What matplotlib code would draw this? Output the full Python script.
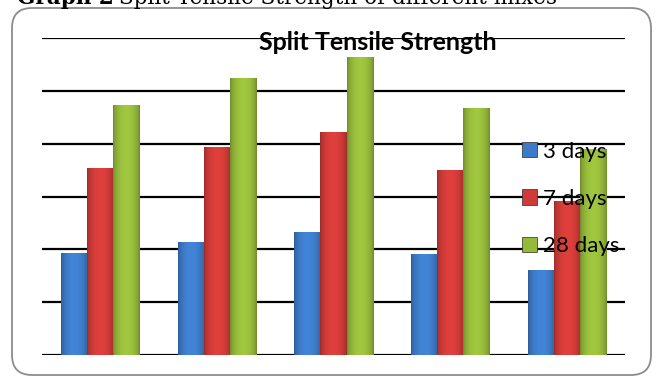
import numpy as np
import matplotlib
matplotlib.use("Agg")
import matplotlib.pyplot as plt
from matplotlib.patches import FancyBboxPatch
from matplotlib.colors import to_rgb

# ---- data ----
mixes = ["M1", "M2", "M3", "M4", "M5"]
series_names = ["3 days", "7 days", "28 days"]
days3 = [0.97, 1.07, 1.16, 0.96, 0.80]
days7 = [1.77, 1.97, 2.11, 1.75, 1.46]
days28 = [2.37, 2.62, 2.82, 2.34, 1.95]
y_ticks = [0.0, 0.5, 1.0, 1.5, 2.0, 2.5, 3.0]
colors = ["#3d7bc8", "#cf3b38", "#95b93b"]

fig = plt.figure(figsize=(6.56, 3.76), dpi=100)
W, H = 656, 376

# rounded chart frame (pixel units via inches, isotropic corners)
frame = FancyBboxPatch((12 / 100, 1 / 100), 639 / 100, 367 / 100,
                       boxstyle="round,pad=0,rounding_size=0.2",
                       transform=fig.dpi_scale_trans, facecolor="white",
                       edgecolor="#8c8c8c", linewidth=1.3, zorder=-5)
fig.patches.append(frame)

# caption (cut at the top edge, as in the source)
cap_y = 1 - 4 / H
t1 = fig.text(17 / W, cap_y, "Graph 2", fontsize=15.5, family="DejaVu Serif",
              fontweight="bold", va="baseline", ha="left")
fig.canvas.draw()
bb = t1.get_window_extent()
fig.text((bb.x1 + 5) / W, cap_y, "Split Tensile Strength of different mixes",
         fontsize=15.5, family="DejaVu Serif", va="baseline", ha="left")

ax = fig.add_axes([42 / W, (H - 355) / H, 583 / W, 317 / H])
ax.set_facecolor("none")
x = np.arange(len(mixes))
bw = 0.223
all_series = [days3, days7, days28]
for i, (vals, name, c) in enumerate(zip(all_series, series_names, colors)):
    bars = ax.bar(x + (i - 1) * bw, vals, bw, color=c, edgecolor="#2b2b2b",
                  linewidth=0.5, label=name, zorder=3)
    base = np.array(to_rgb(c))
    t = np.linspace(0, 1, 64)
    shade = 0.74 + 0.34 * np.sin(np.pi * t) ** 0.6
    grad = np.clip(base[None, :] * shade[:, None], 0, 1)[None, :, :]
    for b in bars:
        x0, y0 = b.get_x(), b.get_y()
        w, h = b.get_width(), b.get_height()
        im = ax.imshow(grad, extent=[x0, x0 + w, y0, y0 + h], aspect="auto",
                       zorder=3.5, interpolation="bilinear")
        im.set_clip_path(b)

ax.set_xlim(-0.5, 4.5)
ax.set_ylim(y_ticks[0], y_ticks[-1])
ax.set_yticks(y_ticks)
ax.yaxis.grid(True, color="black", linewidth=1.6, zorder=1)
ax.set_axisbelow(True)
ax.tick_params(left=False, bottom=False, labelleft=False, labelbottom=False)
for s in ax.spines.values():
    s.set_visible(False)

fig.text(378 / W, 1 - 43 / H, "Split Tensile Strength", fontsize=18,
         fontweight="bold", family="Lato", ha="center", va="center", zorder=5)

leg = ax.legend(loc="upper left", bbox_to_anchor=(480 / 583, 1 - 103.5 / 317),
                frameon=False, prop={"family": "Lato", "size": 16},
                handlelength=0.68, handleheight=0.68, handletextpad=0.27,
                labelspacing=1.23, borderpad=0, borderaxespad=0)
leg.set_zorder(6)

fig.savefig("out.png", dpi=100)
